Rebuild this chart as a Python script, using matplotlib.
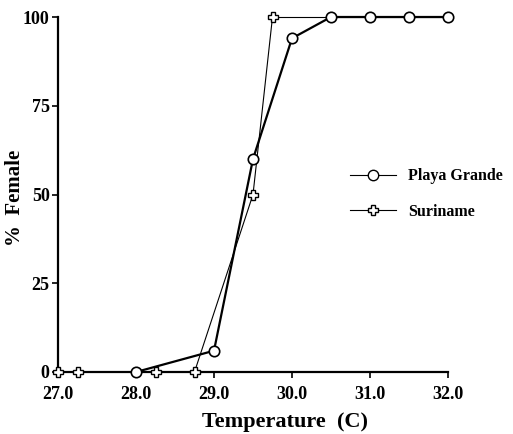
import matplotlib
matplotlib.use("Agg")
import matplotlib.pyplot as plt
from matplotlib.lines import Line2D

# data
pg_temp = [28.0, 29.0, 29.5, 30.0, 30.5, 31.0, 31.5, 32.0]
pg_female = [0, 6, 60, 94, 100, 100, 100, 100]
sur_temp = [27.0, 27.25, 28.25, 28.75, 29.5, 29.75, 32.0]
sur_female = [0, 0, 0, 0, 50, 100, 100]
xticks = [27.0, 28.0, 29.0, 30.0, 31.0, 32.0]
yticks = [0, 25, 50, 75, 100]

plt.rcParams['font.family'] = 'Liberation Serif'
plt.rcParams['font.weight'] = 'bold'

fig = plt.figure(figsize=(5.13, 4.34), dpi=100)
ax = fig.add_axes([58/513, 62/434, 390/513, 355/434])

# Suriname: thin line, markers only up to the start of the plateau
ax.plot(sur_temp[:6], sur_female[:6], '-', color='black', lw=0.8,
        marker='P', markersize=7, markerfacecolor='white',
        markeredgecolor='black', markeredgewidth=1.0, clip_on=False, zorder=3)
ax.plot(sur_temp[5:], sur_female[5:], '-', color='black', lw=0.8,
        clip_on=False, zorder=2)
ax.plot(pg_temp, pg_female, '-', color='black', lw=1.6,
        marker='o', markersize=7.5, markerfacecolor='white',
        markeredgecolor='black', markeredgewidth=1.2, clip_on=False, zorder=4)

ax.set_xlim(27.0, 32.0)
ax.set_ylim(0, 100)
ax.set_xticks(xticks)
ax.set_xticklabels(['%.1f' % t for t in xticks])
ax.set_yticks(yticks)
ax.tick_params(direction='out', length=4, width=1.2, labelsize=13, pad=2)
ax.tick_params(axis='x', pad=6)
for s in ['top', 'right']:
    ax.spines[s].set_visible(False)
for s in ['left', 'bottom']:
    ax.spines[s].set_linewidth(1.6)

ax.set_xlabel('Temperature  (C)', fontsize=16, fontweight='bold')
ax.xaxis.set_label_coords(0.582, -0.113)
ax.set_ylabel('%  Female', fontsize=15, fontweight='bold')
ax.yaxis.set_label_coords(-0.085, 0.49)

handles = [
    Line2D([], [], color='black', lw=0.8, marker='o', markersize=7.5,
           markerfacecolor='white', markeredgecolor='black'),
    Line2D([], [], color='black', lw=0.8, marker='P', markersize=7,
           markerfacecolor='white', markeredgecolor='black'),
]
fig.legend(handles, ['Playa Grande', 'Suriname'], frameon=False,
           loc='upper left', bbox_to_anchor=(336/513, 1 - 154/434),
           prop={'size': 11.5, 'weight': 'bold'}, handlelength=2.85,
           labelspacing=1.2, handletextpad=0.75)

fig.savefig('out.png', dpi=100)
